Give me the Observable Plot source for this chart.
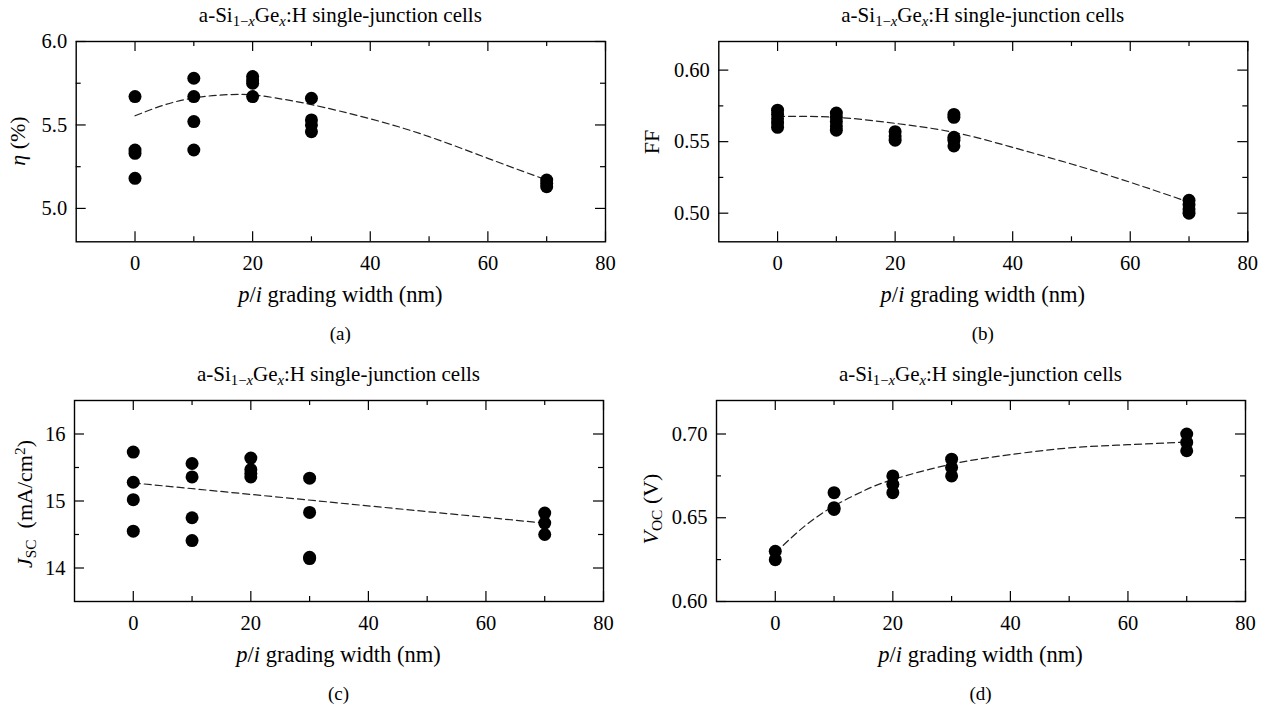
<!DOCTYPE html>
<html>
<head>
<meta charset="utf-8">
<script src="https://cdn.jsdelivr.net/npm/d3@7"></script>
<script src="https://cdn.jsdelivr.net/npm/@observablehq/plot@0.6"></script>
<style>
  body { margin: 0; background: #fff; }
  #root { position: relative; width: 1268px; height: 708px; font-family: "Liberation Serif", "DejaVu Serif", serif; color: #000; overflow: hidden; }
  #root svg { position: absolute; overflow: visible; }
  .lbl { position: absolute; white-space: nowrap; transform: translate(-50%, -50%); line-height: 1; }
  .ylbl { position: absolute; white-space: nowrap; transform: translate(-50%, -50%) rotate(-90deg); line-height: 1; }
  .title { font-size: 21px; }
  .xlab { font-size: 22.5px; }
  .ylab { font-size: 22px; }
  .cap { font-size: 19px; }
  sub { font-size: 0.7em; vertical-align: -0.28em; line-height: 0; }
  sup { font-size: 0.7em; vertical-align: 0.45em; line-height: 0; }
</style>
</head>
<body>
<div id="root"></div>
<script>
// ---------- data ----------
const xTicksMajor = [0, 20, 40, 60, 80];
const xTicksMinor = [10, 30, 50, 70];

// (a) efficiency
const etaX = [0, 0, 0, 0, 10, 10, 10, 10, 20, 20, 20, 20, 30, 30, 30, 30, 70, 70, 70];
const etaY = [5.67, 5.35, 5.33, 5.18, 5.78, 5.67, 5.52, 5.35, 5.79, 5.77, 5.75, 5.67, 5.66, 5.53, 5.50, 5.46, 5.17, 5.15, 5.13];
const etaFitX = [0, 5, 10, 15, 20, 25, 30, 40, 50, 60, 70];
const etaFitY = [5.555, 5.62, 5.662, 5.68, 5.68, 5.655, 5.622, 5.537, 5.43, 5.30, 5.17];
const etaTicksMajor = [5.0, 5.5, 6.0];
const etaTicksMinor = [5.25, 5.75];

// (b) fill factor
const ffX = [0, 0, 0, 0, 0, 10, 10, 10, 10, 10, 20, 20, 20, 30, 30, 30, 30, 30, 70, 70, 70, 70];
const ffY = [0.572, 0.569, 0.566, 0.563, 0.560, 0.570, 0.567, 0.564, 0.561, 0.558, 0.557, 0.554, 0.551, 0.569, 0.567, 0.553, 0.551, 0.547, 0.509, 0.506, 0.503, 0.500];
const ffFitX = [0, 10, 20, 30, 40, 50, 60, 70];
const ffFitY = [0.5677, 0.567, 0.5628, 0.5565, 0.546, 0.5344, 0.5216, 0.5077];
const ffTicksMajor = [0.50, 0.55, 0.60];
const ffTicksMinor = [0.525, 0.575];

// (c) short-circuit current density
const jscX = [0, 0, 0, 0, 10, 10, 10, 10, 20, 20, 20, 20, 30, 30, 30, 30, 70, 70, 70];
const jscY = [15.73, 15.28, 15.02, 14.55, 15.56, 15.36, 14.75, 14.41, 15.64, 15.47, 15.41, 15.36, 15.34, 14.83, 14.16, 14.14, 14.82, 14.67, 14.50];
const jscFitX = [0, 70];
const jscFitY = [15.27, 14.67];
const jscTicksMajor = [14, 15, 16];
const jscTicksMinor = [14.5, 15.5];

// (d) open-circuit voltage
const vocX = [0, 0, 10, 10, 10, 20, 20, 20, 30, 30, 30, 70, 70, 70];
const vocY = [0.630, 0.625, 0.665, 0.656, 0.655, 0.675, 0.670, 0.665, 0.685, 0.680, 0.675, 0.700, 0.695, 0.690];
const vocFitX = [0, 5, 10, 15, 20, 30, 40, 50, 60, 70];
const vocFitY = [0.629, 0.645, 0.657, 0.666, 0.6728, 0.682, 0.6877, 0.6917, 0.6936, 0.6952];
const vocTicksMajor = [0.60, 0.65, 0.70];
const vocTicksMinor = [0.625, 0.675];

const titleHTML = 'a-Si<sub>1−<i>x</i></sub>Ge<sub><i>x</i></sub>:H single-junction cells';
const xLabelHTML = '<i>p</i>/<i>i</i> grading width (nm)';

// ---------- layout ----------
const panels = [
  {key: "a", ox: 0,   L: 75.7,  R: 605,    T: 40.7, B: 241, xs: etaX, ys: etaY, fx: etaFitX, fy: etaFitY,
   yDomain: [4.8, 6.0], yMaj: etaTicksMajor, yMin: etaTicksMinor, fmt: d3.format(".1f"),
   ylab: '<i>η</i> (%)', ylabX: 18, ylabDy: 0, curve: "natural"},
  {key: "b", ox: 634, L: 718.3, R: 1247.3, T: 40.7, B: 241, xs: ffX, ys: ffY, fx: ffFitX, fy: ffFitY,
   yDomain: [0.48, 0.62], yMaj: ffTicksMajor, yMin: ffTicksMinor, fmt: d3.format(".2f"),
   ylab: 'FF', ylabX: 652, ylabDy: 1, curve: "natural"},
  {key: "c", ox: 0,   L: 74,    R: 603,    T: 400,  B: 601, xs: jscX, ys: jscY, fx: jscFitX, fy: jscFitY,
   yDomain: [13.5, 16.5], yMaj: jscTicksMajor, yMin: jscTicksMinor, fmt: d3.format("d"),
   ylab: '<i>J</i><sub>SC</sub>&nbsp; (mA/cm<sup>2</sup>)', ylabX: 25, ylabDy: 3, curve: "linear"},
  {key: "d", ox: 634, L: 716,   R: 1245,   T: 400,  B: 601, xs: vocX, ys: vocY, fx: vocFitX, fy: vocFitY,
   yDomain: [0.60, 0.72], yMaj: vocTicksMajor, yMin: vocTicksMinor, fmt: d3.format(".2f"),
   ylab: '<i>V</i><sub>OC</sub> (V)', ylabX: 651, ylabDy: 8, curve: "natural"}
];

const root = document.getElementById("root");
const SVG_W = 634, SVG_H = 310, TOP_M = 40;

function addLabel(cls, html, x, y) {
  const d = document.createElement("div");
  d.className = cls;
  d.innerHTML = html;
  d.style.left = x + "px";
  d.style.top = y + "px";
  root.appendChild(d);
}

for (const p of panels) {
  const fw = p.R - p.L, fh = p.B - p.T;
  const oy = p.T - TOP_M;
  const pts = p.xs.map((x, i) => ({x, y: p.ys[i]}));
  const fit = p.fx.map((x, i) => ({x, y: p.fy[i]}));
  const tickStyle = {stroke: "black", strokeWidth: 1.2};
  const chart = Plot.plot({
    width: SVG_W,
    height: SVG_H,
    marginLeft: p.L - p.ox,
    marginRight: p.ox + SVG_W - p.R,
    marginTop: TOP_M,
    marginBottom: SVG_H - TOP_M - fh,
    style: {fontFamily: '"Liberation Serif", "DejaVu Serif", serif', fontSize: "20px", color: "black", background: "transparent", overflow: "visible"},
    x: {domain: [-10, 80]},
    y: {domain: p.yDomain},
    marks: [
      // inward ticks on all four sides
      Plot.ruleX(xTicksMajor, {...tickStyle, insetTop: fh - 10}),
      Plot.ruleX(xTicksMinor, {...tickStyle, insetTop: fh - 5}),
      Plot.ruleX(xTicksMajor, {...tickStyle, insetBottom: fh - 10}),
      Plot.ruleX(xTicksMinor, {...tickStyle, insetBottom: fh - 5}),
      Plot.ruleY(p.yMaj, {...tickStyle, insetRight: fw - 10}),
      Plot.ruleY(p.yMin, {...tickStyle, insetRight: fw - 5}),
      Plot.ruleY(p.yMaj, {...tickStyle, insetLeft: fw - 10}),
      Plot.ruleY(p.yMin, {...tickStyle, insetLeft: fw - 5}),
      Plot.axisX({ticks: xTicksMajor, tickSize: 0, tickPadding: 14, tickFormat: d => String(d), label: null, fontSize: 20.5}),
      Plot.axisY({ticks: p.yMaj, tickSize: 0, tickPadding: 9, tickFormat: p.fmt, label: null, fontSize: 20.5}),
      Plot.line(fit, {x: "x", y: "y", stroke: "#222", strokeWidth: 1.2, strokeDasharray: "7,4", curve: p.curve}),
      Plot.dot(pts, {x: "x", y: "y", r: 6.5, fill: "black", stroke: "none"}),
      Plot.frame({stroke: "black", strokeWidth: 1.4})
    ]
  });
  chart.style.left = p.ox + "px";
  chart.style.top = oy + "px";
  root.appendChild(chart);

  const cx = (p.L + p.R) / 2;
  addLabel("lbl title", titleHTML, cx, p.T - 26);
  addLabel("lbl xlab", xLabelHTML, cx, p.B + 54);
  addLabel("lbl cap", "(" + p.key + ")", cx, p.B + 92);
  addLabel("ylbl ylab", p.ylab, p.ylabX, (p.T + p.B) / 2 + p.ylabDy);
}
</script>
</body>
</html>
